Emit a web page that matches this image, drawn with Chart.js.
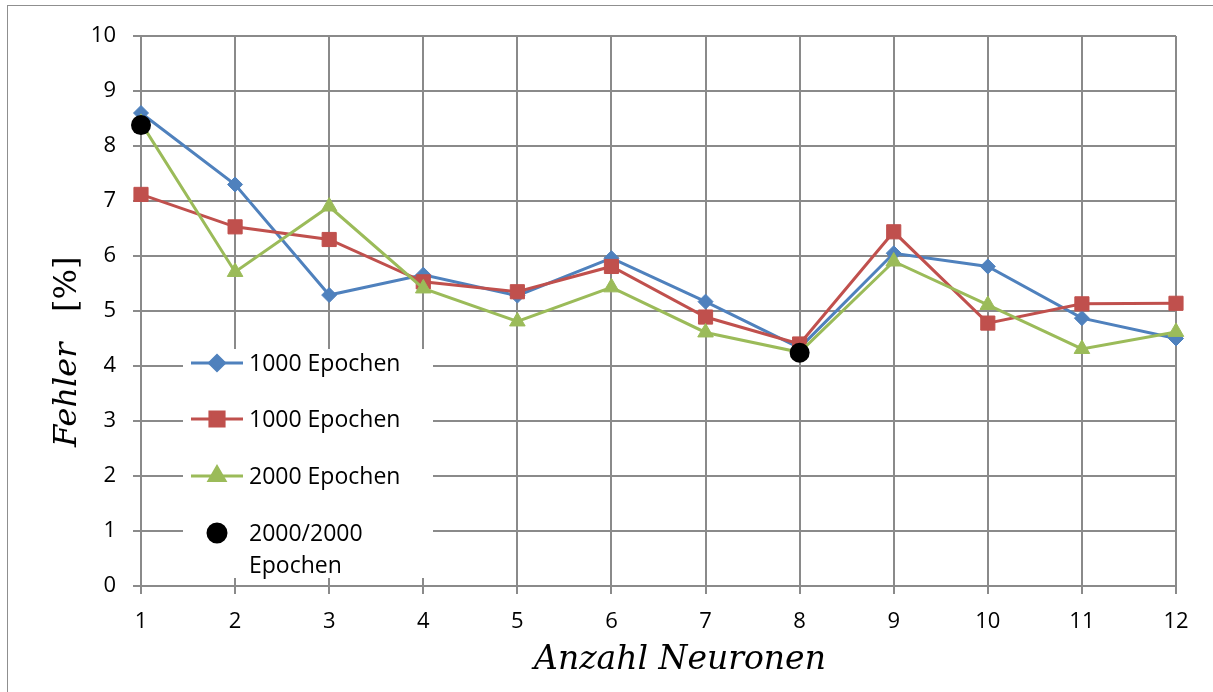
<!DOCTYPE html>
<html lang="de">
<head>
<meta charset="utf-8">
<title>Fehler über Anzahl Neuronen</title>
<script src="https://cdn.jsdelivr.net/npm/chart.js@4.4.1/dist/chart.umd.min.js"></script>
<style>
    html, body { margin: 0; padding: 0; background: #fff; overflow: hidden; }
    #wrap { position: relative; width: 1213px; height: 692px; }
    #rahmen {
        position: absolute; left: 7px; top: 5px; width: 1230px; height: 720px;
        border: 1.5px solid #8f8f8f; box-sizing: border-box; pointer-events: none;
    }
    #chart { position: absolute; left: 0; top: 0; }
</style>
</head>
<body>
<div id="wrap">
    <div id="rahmen"></div>
    <canvas id="chart" width="1213" height="692"></canvas>
</div>
<script>
// Anzahl der Neuronen (Kategorien der x-Achse)
const neuronen = ['1', '2', '3', '4', '5', '6', '7', '8', '9', '10', '11', '12'];

// Fehler in % je Messreihe
const fehler1000a = [8.60, 7.30, 5.29, 5.66, 5.28, 5.96, 5.17, 4.33, 6.05, 5.81, 4.87, 4.50];
const fehler1000b = [7.12, 6.53, 6.30, 5.53, 5.35, 5.81, 4.89, 4.40, 6.44, 4.78, 5.13, 5.14];
const fehler2000 = [8.42, 5.71, 6.90, 5.41, 4.81, 5.43, 4.61, 4.25, 5.90, 5.11, 4.31, 4.62];
const fehler2000x2 = [8.38, null, null, null, null, null, null, 4.24, null, null, null, null];

const reihenNamen = ['1000 Epochen', '1000 Epochen', '2000 Epochen', '2000/2000\nEpochen'];

const farben = {
    blau: '#4f81bd',
    rot: '#c0504d',
    gruen: '#9bbb59',
    schwarz: '#000000',
    gitter: '#8a8a8a'
};

const schrift = '"Open Sans", "Liberation Sans", sans-serif';

// Legende liegt im Diagrammbereich auf weißem Grund
const innenLegende = {
    id: 'innenLegende',
    afterDraw(chart) {
        const ctx = chart.ctx;
        const box = { x: 183, y: 349, w: 250, h: 229 };
        const zeilen = [363, 419, 476, 533];
        ctx.save();
        ctx.fillStyle = '#ffffff';
        ctx.fillRect(box.x, box.y, box.w, box.h);
        ctx.font = '23px ' + schrift;
        ctx.fillStyle = '#000';
        ctx.textBaseline = 'middle';
        ctx.textAlign = 'left';
        chart.data.datasets.forEach((ds, i) => {
            const y = zeilen[i];
            if (ds.showLine !== false) {
                ctx.strokeStyle = ds.borderColor;
                ctx.lineWidth = ds.borderWidth;
                ctx.beginPath();
                ctx.moveTo(191, y);
                ctx.lineTo(243, y);
                ctx.stroke();
            }
            ctx.fillStyle = ds.pointBackgroundColor;
            ctx.strokeStyle = ds.pointBorderColor;
            Chart.helpers.drawPoint(ctx, {
                pointStyle: ds.pointStyle,
                radius: ds.legendRadius,
                rotation: 0,
                borderWidth: 1
            }, 217, y);
            ctx.fillStyle = '#000';
            reihenNamen[i].split('\n').forEach((t, k) => {
                ctx.fillText(t, 249, y + 1 + k * 32);
            });
        });
        ctx.restore();
    }
};

// Achsentitel in Formelschrift
const achsenTitel = {
    id: 'achsenTitel',
    afterDraw(chart) {
        const ctx = chart.ctx;
        ctx.save();
        ctx.fillStyle = '#000';
        ctx.textBaseline = 'alphabetic';

        ctx.textAlign = 'center';
        ctx.font = 'italic 33px "DejaVu Serif", serif';
        ctx.fillText('Anzahl Neuronen', 680, 669);

        ctx.translate(76, 0);
        ctx.rotate(-Math.PI / 2);
        ctx.textAlign = 'left';
        ctx.font = 'italic 32px "DejaVu Serif", serif';
        ctx.fillText('Fehler', -447, 0);
        ctx.font = '32px "DejaVu Serif", serif';
        ctx.fillText('[%]', -312, 0);
        ctx.restore();
    }
};

new Chart(document.getElementById('chart'), {
    type: 'line',
    data: {
        labels: neuronen,
        datasets: [
            {
                label: reihenNamen[0],
                data: fehler1000a,
                borderColor: farben.blau,
                backgroundColor: farben.blau,
                pointBackgroundColor: farben.blau,
                pointBorderColor: farben.blau,
                borderWidth: 3,
                pointStyle: 'rectRot',
                pointRadius: 7.5,
                legendRadius: 7.5,
                pointBorderWidth: 1,
                order: 3
            },
            {
                label: reihenNamen[1],
                data: fehler1000b,
                borderColor: farben.rot,
                backgroundColor: farben.rot,
                pointBackgroundColor: farben.rot,
                pointBorderColor: farben.rot,
                borderWidth: 3,
                pointStyle: 'rect',
                pointRadius: 10,
                legendRadius: 10,
                pointBorderWidth: 1,
                order: 2
            },
            {
                label: reihenNamen[2],
                data: fehler2000,
                borderColor: farben.gruen,
                backgroundColor: farben.gruen,
                pointBackgroundColor: farben.gruen,
                pointBorderColor: farben.gruen,
                borderWidth: 3,
                pointStyle: 'triangle',
                pointRadius: 9,
                legendRadius: 9,
                pointBorderWidth: 1,
                order: 1
            },
            {
                label: reihenNamen[3],
                data: fehler2000x2,
                borderColor: farben.schwarz,
                backgroundColor: farben.schwarz,
                pointBackgroundColor: farben.schwarz,
                pointBorderColor: farben.schwarz,
                showLine: false,
                pointStyle: 'circle',
                pointRadius: 10,
                legendRadius: 9,
                pointBorderWidth: 0,
                order: 0
            }
        ]
    },
    options: {
        responsive: false,
        animation: false,
        events: [],
        layout: { padding: { left: 0, top: 36, right: 37, bottom: 0 } },
        plugins: {
            legend: { display: false },
            tooltip: { enabled: false },
            title: { display: false }
        },
        scales: {
            x: {
                offset: false,
                grid: { color: farben.gitter, lineWidth: 2, tickLength: 8, drawTicks: true },
                border: { color: farben.gitter, width: 2 },
                ticks: { color: '#000', font: { family: schrift, size: 22 }, padding: 15, maxRotation: 0 },
                afterFit(scale) { scale.height = 106; }
            },
            y: {
                min: 0,
                max: 10,
                grid: { color: farben.gitter, lineWidth: 2, tickLength: 8, drawTicks: true },
                border: { color: farben.gitter, width: 2 },
                ticks: { stepSize: 1, color: '#000', font: { family: schrift, size: 22 }, padding: 17 },
                afterFit(scale) { scale.width = 141; }
            }
        }
    },
    plugins: [innenLegende, achsenTitel]
});
</script>
</body>
</html>
